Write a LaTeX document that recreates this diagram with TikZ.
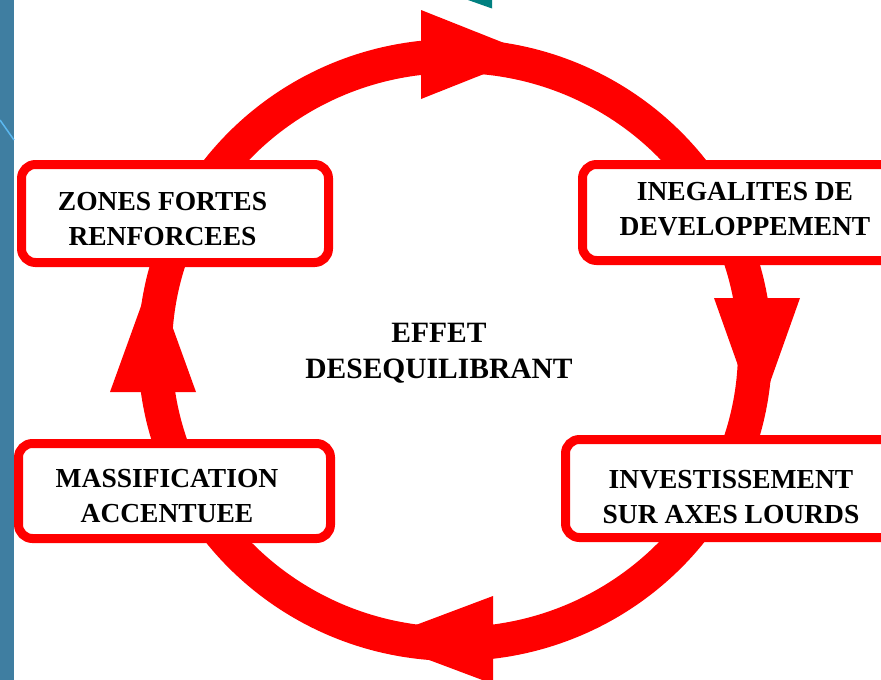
\documentclass[tikz,border=0pt]{standalone}
\usepackage{fontspec}
\setmainfont{Liberation Serif}
\definecolor{stripblue}{HTML}{3F7EA1}
\definecolor{lineblue}{HTML}{5BB8F0}
\definecolor{tealmark}{HTML}{008080}
\newcommand\bxfont{\bfseries\fontsize{27.5pt}{35pt}\selectfont}
\newcommand\ctrfont{\bfseries\fontsize{29.5pt}{36pt}\selectfont}
\newcommand\twoln[2]{\begin{tabular}[t]{@{}c@{}}#1\\#2\end{tabular}}
\tikzset{
  cyclebox/.style={draw=red, line width=9pt, fill=white, rounded corners=14pt,
    inner sep=0pt, font=\bxfont},
  ringline/.style={draw=red, line width=34pt},
  ringhead/.style={fill=red}
}
\begin{document}
\begin{tikzpicture}[x=1pt,y=-1pt]
\useasboundingbox (0,0) rectangle (881,680);
\clip (0,0) rectangle (881,680);
\fill[white] (0,0) rectangle (881,680);
% left strip
\fill[stripblue] (0,0) rectangle (14,680);
\draw[lineblue, line width=1.5pt] (0,120) -- (14,140);
% teal mark at top
\fill[tealmark] (468,0) -- (492,0) -- (492,8.5) -- cycle;
% ring
\draw[ringline] (455,350) ellipse [x radius=300pt, y radius=294pt];
% arrow heads
\fill[ringhead] (421,10) -- (421,99) -- (533,54.5) -- cycle;
\fill[ringhead] (714,298) -- (800,298) -- (757,419) -- cycle;
\fill[ringhead] (493,596) -- (493,684) -- (376,640) -- cycle;
\fill[ringhead] (110,392) -- (196,392) -- (153,273) -- cycle;
% boxes
\node[cyclebox, minimum width=307pt, minimum height=98pt, text height=10pt, text depth=17pt]
  (zones) at (175,213.5) {\twoln{ZONES FORTES}{RENFORCEES}\rule{25pt}{0pt}};
\node[cyclebox, minimum width=325pt, minimum height=96pt, text height=5pt, text depth=30pt]
  (ineg) at (745,212.5) {\twoln{INEGALITES DE}{DEVELOPPEMENT}};
\node[cyclebox, minimum width=312pt, minimum height=95pt, text height=10pt, text depth=18pt]
  (mass) at (174.5,491) {\twoln{MASSIFICATION}{ACCENTUEE}\rule{15pt}{0pt}};
\node[cyclebox, minimum width=331pt, minimum height=98pt, text height=10pt, text depth=11pt]
  (invest) at (731,488.5) {\twoln{INVESTISSEMENT}{SUR AXES LOURDS}};
% centre text
\node[font=\ctrfont, inner sep=0pt, anchor=base] (effet) at (439,342) {\twoln{EFFET}{DESEQUILIBRANT}};
\end{tikzpicture}
\end{document}
